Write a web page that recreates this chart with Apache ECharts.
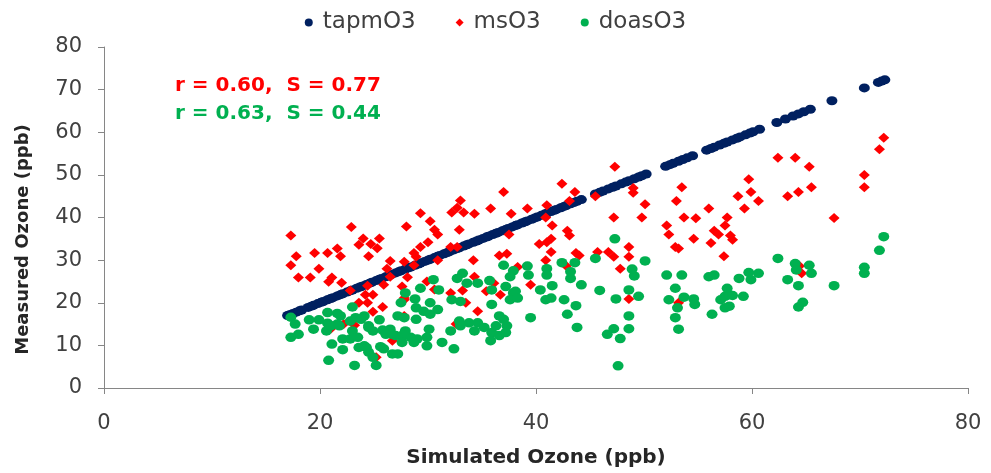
<!DOCTYPE html>
<html>
<head>
<meta charset="utf-8">
<script src="https://cdn.jsdelivr.net/npm/echarts@6/dist/echarts.min.js"></script>
<style>
  html, body { margin: 0; padding: 0; background: #ffffff; }
  #chart { width: 991px; height: 473px; }
</style>
</head>
<body>
<div id="chart"></div>
<script>
// Axis ticks
const xTicks = [0, 20, 40, 60, 80];
const yTicks = [0, 10, 20, 30, 40, 50, 60, 70, 80];

// Model ozone plotted against itself (simulated, measured) in ppb
const tapmSim = [
  17.0, 17.2, 17.5, 17.8, 18.1, 18.3,
  18.9, 19.2, 19.4, 19.8, 20.1, 20.3, 20.7, 21.0, 21.2, 21.6, 21.9, 22.1, 22.5, 22.8,
  23.0, 23.4, 23.7, 23.9, 24.3, 24.6, 24.8, 25.2, 25.5, 25.7, 26.1, 26.4, 26.6, 27.0,
  27.3, 27.5, 27.9, 28.2, 28.4, 28.8, 29.1, 29.3, 29.7, 30.0, 30.2, 30.6, 30.9, 31.1,
  31.5, 31.8, 32.0, 32.4, 32.7, 32.9, 33.3, 33.6, 33.8, 34.2, 34.5, 34.7, 35.1, 35.4,
  35.6, 36.0, 36.3, 36.5, 36.9, 37.2, 37.4, 37.8, 38.1, 38.3, 38.7, 39.0, 39.2, 39.6,
  39.9, 40.1, 40.5, 40.8, 41.0, 41.4, 41.7, 41.9, 42.3, 42.6, 42.8, 43.2, 43.5, 43.8, 44.2,
  45.5, 45.9, 46.2, 46.7, 47.1, 47.4, 47.9, 48.3, 48.6, 49.1, 49.5, 49.8, 50.2,
  52.0, 52.4, 52.7, 53.2, 53.6, 54.0, 54.5,
  55.8, 56.2, 56.5, 57.0, 57.4, 57.7, 58.2, 58.6, 58.9, 59.4, 59.8, 60.1, 60.7,
  62.3, 63.1, 63.8, 64.3, 64.8, 65.4, 67.4, 70.4, 71.7, 72.0, 72.3
];
const tapmMeas = [
  17.0, 17.2, 17.5, 17.8, 18.1, 18.3,
  18.9, 19.2, 19.4, 19.8, 20.1, 20.3, 20.7, 21.0, 21.2, 21.6, 21.9, 22.1, 22.5, 22.8,
  23.0, 23.4, 23.7, 23.9, 24.3, 24.6, 24.8, 25.2, 25.5, 25.7, 26.1, 26.4, 26.6, 27.0,
  27.3, 27.5, 27.9, 28.2, 28.4, 28.8, 29.1, 29.3, 29.7, 30.0, 30.2, 30.6, 30.9, 31.1,
  31.5, 31.8, 32.0, 32.4, 32.7, 32.9, 33.3, 33.6, 33.8, 34.2, 34.5, 34.7, 35.1, 35.4,
  35.6, 36.0, 36.3, 36.5, 36.9, 37.2, 37.4, 37.8, 38.1, 38.3, 38.7, 39.0, 39.2, 39.6,
  39.9, 40.1, 40.5, 40.8, 41.0, 41.4, 41.7, 41.9, 42.3, 42.6, 42.8, 43.2, 43.5, 43.8, 44.2,
  45.5, 45.9, 46.2, 46.7, 47.1, 47.4, 47.9, 48.3, 48.6, 49.1, 49.5, 49.8, 50.2,
  52.0, 52.4, 52.7, 53.2, 53.6, 54.0, 54.5,
  55.8, 56.2, 56.5, 57.0, 57.4, 57.7, 58.2, 58.6, 58.9, 59.4, 59.8, 60.1, 60.7,
  62.3, 63.1, 63.8, 64.3, 64.8, 65.4, 67.4, 70.4, 71.7, 72.0, 72.3
];

// Monitoring-station ozone: [simulated, measured]
const msO3 = [
  [17.3, 35.8], [17.8, 30.9], [17.3, 28.8], [18.0, 25.9], [19.1, 25.9], [19.5, 31.7],
  [19.9, 28.0], [20.7, 31.7], [20.8, 24.9], [21.1, 25.9], [21.6, 32.7], [21.9, 30.9],
  [22.0, 24.7], [22.9, 37.8], [22.8, 22.9], [23.6, 33.6], [24.0, 35.1], [24.5, 30.9],
  [24.4, 24.0], [24.2, 21.9], [24.9, 21.9], [23.6, 20.0], [24.4, 20.0], [25.8, 19.0],
  [24.9, 17.9], [25.5, 35.1], [25.3, 32.8], [26.5, 29.8], [26.2, 28.0], [26.5, 26.1],
  [25.9, 24.2], [22.2, 15.0], [23.2, 14.7], [21.0, 13.9], [26.7, 11.1], [25.2, 7.2],
  [24.7, 33.8], [37.0, 46.0], [33.0, 44.0], [32.7, 42.3], [32.2, 41.2], [33.3, 41.2],
  [29.3, 41.0], [34.3, 40.9], [35.8, 42.1], [37.7, 40.9], [39.2, 42.1], [30.2, 39.1],
  [28.0, 37.9], [30.6, 37.1], [32.9, 37.1], [30.9, 36.0], [37.5, 36.0], [30.0, 34.2],
  [29.3, 33.1], [32.1, 33.1], [32.7, 33.1], [28.7, 31.7], [28.9, 30.8], [36.6, 31.1],
  [37.3, 31.5], [30.9, 30.0], [34.2, 30.0], [27.8, 29.6], [28.7, 28.8], [28.1, 26.0],
  [27.6, 23.8], [29.9, 25.0], [30.6, 23.1], [32.1, 22.3], [33.2, 22.9], [34.3, 26.1],
  [35.4, 22.7], [36.1, 24.6], [36.7, 21.9], [39.5, 24.2], [27.8, 21.1], [34.6, 18.0],
  [27.8, 16.9], [32.6, 15.0], [40.3, 33.8], [33.5, 20.0], [27.8, 20.7], [38.3, 28.4],
  [47.3, 51.9], [42.4, 47.9], [43.6, 46.0], [43.1, 43.9], [45.5, 45.0], [49.0, 46.9],
  [49.0, 45.8], [41.0, 42.9], [40.9, 40.0], [41.5, 38.1], [47.2, 40.0], [42.9, 36.9],
  [43.1, 35.8], [41.4, 35.0], [41.0, 34.2], [41.4, 31.9], [40.9, 30.0], [43.7, 31.7],
  [44.0, 31.1], [45.7, 31.9], [46.7, 31.9], [47.2, 30.8], [48.6, 33.1], [48.6, 30.8],
  [47.8, 28.0], [48.6, 20.9], [42.8, 28.6], [50.1, 43.1], [49.8, 40.0],
  [59.7, 49.0], [58.7, 45.0], [59.9, 46.0], [60.6, 43.9], [59.3, 42.1], [53.5, 47.1],
  [53.0, 43.9], [56.0, 42.1], [53.7, 40.0], [54.8, 39.8], [57.7, 40.0], [57.5, 38.1],
  [52.1, 38.1], [52.3, 36.0], [56.5, 36.9], [56.9, 36.0], [58.0, 35.8], [58.2, 34.8],
  [54.6, 35.0], [56.2, 34.0], [52.9, 33.1], [53.2, 32.7], [57.4, 30.9], [53.2, 20.0],
  [72.2, 58.7], [71.8, 56.0], [70.4, 50.0], [70.4, 47.1], [62.4, 54.0], [64.0, 54.0],
  [65.3, 51.9], [65.5, 47.1], [64.3, 46.0], [63.3, 45.0], [67.6, 39.9], [64.4, 28.6],
  [64.6, 26.9]
];

// DOAS-measured ozone: [simulated, measured]
const doasO3 = [
  [17.3, 16.6], [17.7, 15.0], [17.3, 11.9], [18.0, 12.6], [19.0, 16.0], [19.9, 16.0],
  [19.4, 13.8], [20.7, 17.7], [21.6, 17.5], [21.9, 16.9], [23.0, 19.0], [20.7, 15.2],
  [21.6, 15.0], [23.3, 16.5], [24.1, 16.9], [20.6, 13.4], [25.5, 16.0], [24.5, 14.6],
  [24.9, 13.4], [25.8, 13.6], [26.5, 13.8], [26.1, 12.6], [27.0, 12.3], [21.1, 10.3],
  [22.1, 11.5], [22.8, 11.5], [22.1, 9.0], [23.6, 9.5], [24.3, 9.5], [24.5, 8.4],
  [24.9, 7.2], [25.9, 9.2], [26.7, 8.0], [20.8, 6.5], [23.2, 5.3], [25.2, 5.3],
  [21.0, 14.6], [21.8, 14.6], [24.5, 14.2], [22.8, 15.7], [23.8, 16.1], [23.0, 13.4],
  [23.5, 11.9], [24.1, 9.9], [25.6, 9.7],
  [30.5, 25.4], [29.3, 23.4], [27.9, 22.3], [28.8, 20.9], [31.0, 23.0], [33.2, 26.9],
  [32.7, 25.7], [33.6, 24.6], [34.6, 24.6], [35.7, 25.2], [37.0, 28.8], [37.9, 27.5],
  [37.6, 26.1], [39.2, 28.6], [39.3, 26.5], [37.2, 23.8], [37.9, 22.3], [37.6, 20.7],
  [35.9, 23.0], [32.2, 20.7], [33.0, 20.3], [30.2, 20.0], [30.9, 18.4], [27.5, 20.0],
  [28.9, 18.8], [29.6, 18.0], [30.2, 17.3], [27.8, 16.5], [28.9, 16.1], [27.2, 16.9],
  [26.7, 12.6], [27.6, 12.3], [28.4, 11.9], [29.0, 11.5], [30.1, 13.8], [29.9, 11.9],
  [29.9, 9.9], [31.3, 10.7], [32.1, 13.4], [33.0, 14.6], [33.8, 15.3], [32.4, 9.2],
  [34.6, 15.3], [34.3, 13.4], [35.2, 14.2], [35.9, 13.0], [36.3, 14.6], [37.0, 16.1],
  [37.3, 14.6], [35.8, 11.1], [39.5, 16.5], [27.6, 10.7], [28.7, 10.7], [27.9, 13.4],
  [27.2, 8.0], [35.9, 19.6], [36.6, 16.9], [32.9, 15.7], [36.6, 12.3], [37.2, 13.0],
  [47.3, 35.0], [42.4, 29.4], [43.6, 29.4], [45.5, 30.4], [41.0, 28.0], [41.0, 26.5],
  [43.2, 27.3], [43.2, 25.7], [44.2, 24.2], [40.4, 23.0], [41.5, 24.0], [38.1, 22.7],
  [38.3, 21.1], [40.9, 20.7], [41.4, 21.1], [42.6, 20.7], [43.7, 19.3], [42.9, 17.3],
  [43.8, 14.2], [45.9, 22.9], [47.4, 20.9], [48.6, 23.0], [49.1, 26.3], [48.9, 27.9],
  [48.6, 16.9], [48.6, 13.9], [46.6, 12.6], [47.2, 13.9], [47.8, 11.6], [47.6, 5.2],
  [49.5, 21.5], [50.1, 29.8],
  [52.1, 26.5], [53.5, 26.5], [52.9, 23.4], [52.3, 20.7], [53.7, 21.3], [53.1, 18.8],
  [54.6, 20.9], [54.7, 19.6], [52.9, 16.5], [53.2, 13.8], [56.0, 26.1], [56.5, 26.5],
  [57.1, 20.7], [57.5, 21.5], [57.9, 21.9], [58.2, 21.7], [57.7, 23.4], [57.5, 18.8],
  [57.9, 19.2], [56.3, 17.3], [58.8, 25.7], [59.7, 27.1], [59.9, 25.4], [60.6, 26.9],
  [59.2, 21.5],
  [62.4, 30.4], [64.0, 29.2], [64.1, 27.7], [65.3, 28.8], [65.5, 26.9], [63.3, 25.4],
  [64.3, 24.0], [67.6, 24.0], [64.7, 20.1], [64.3, 19.0], [70.4, 28.3], [70.4, 26.9],
  [71.8, 32.3], [72.2, 35.5]
];

// Fit statistics shown in the plot corner
const statMs = 'r = 0.60,  S = 0.77';
const statDoas = 'r = 0.63,  S = 0.44';

const NAVY = '#002060';
const RED = '#ff0000';
const GREEN = '#00b050';
const AXIS = '#868686';
const TEXT = '#404040';
const FONT = 'DejaVu Sans';

const tapmData = tapmSim.map((v, i) => [v, tapmMeas[i]]);

const chart = echarts.init(document.getElementById('chart'), null, { renderer: 'canvas' });

chart.setOption({
  animation: false,
  backgroundColor: '#ffffff',
  grid: { left: 104, right: 23, top: 47, bottom: 80 },
  legend: {
    top: 6,
    left: 'center',
    itemWidth: 8,
    itemHeight: 8,
    itemGap: 40,
    textStyle: { fontFamily: FONT, fontSize: 23, color: TEXT, padding: [0, 0, 0, 5] },
    data: ['tapmO3', 'msO3', 'doasO3']
  },
  xAxis: {
    type: 'value',
    min: xTicks[0],
    max: xTicks[xTicks.length - 1],
    interval: 20,
    name: 'Simulated Ozone (ppb)',
    nameLocation: 'middle',
    nameGap: 60,
    nameTextStyle: { fontFamily: FONT, fontSize: 20, fontWeight: 'bold', color: '#262626' },
    axisLine: { lineStyle: { color: AXIS, width: 1 } },
    axisTick: { show: true, length: 6, lineStyle: { color: AXIS } },
    axisLabel: { fontFamily: FONT, fontSize: 21, color: TEXT, margin: 25 },
    splitLine: { show: false }
  },
  yAxis: {
    type: 'value',
    min: yTicks[0],
    max: yTicks[yTicks.length - 1],
    interval: 10,
    name: 'Measured Ozone (ppb)',
    nameLocation: 'middle',
    nameGap: 72,
    nameTextStyle: { fontFamily: FONT, fontSize: 18, fontWeight: 'bold', color: '#262626', padding: [0, 44, 0, 0] },
    axisLine: { show: true, lineStyle: { color: AXIS, width: 1 } },
    axisTick: { show: true, length: 6, lineStyle: { color: AXIS } },
    axisLabel: { fontFamily: FONT, fontSize: 21, color: TEXT, margin: 22 },
    splitLine: { show: false }
  },
  graphic: [
    {
      type: 'text', left: 175, top: 76,
      style: { text: statMs, fill: RED, font: 'bold 20px "DejaVu Sans"' }
    },
    {
      type: 'text', left: 175, top: 104,
      style: { text: statDoas, fill: GREEN, font: 'bold 20px "DejaVu Sans"' }
    }
  ],
  series: [
    {
      name: 'tapmO3', type: 'scatter', data: tapmData,
      symbol: 'circle', symbolSize: [11, 9],
      itemStyle: { color: NAVY, opacity: 1 }
    },
    {
      name: 'msO3', type: 'scatter', data: msO3,
      symbol: 'diamond', symbolSize: [11, 10],
      itemStyle: { color: RED, opacity: 1 }
    },
    {
      name: 'doasO3', type: 'scatter', data: doasO3,
      symbol: 'circle', symbolSize: [11, 9.5],
      itemStyle: { color: GREEN, opacity: 1 }
    }
  ]
});
</script>
</body>
</html>
